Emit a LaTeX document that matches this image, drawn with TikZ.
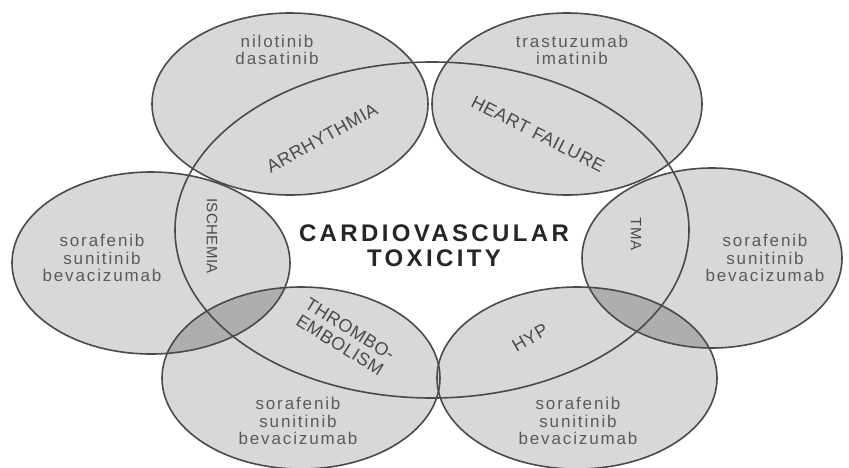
\documentclass[tikz,border=0pt]{standalone}
\usepackage{fontspec}
\setmainfont{Liberation Sans}
\newfontfamily\drugfont[LetterSpace=11]{Liberation Sans}
\newfontfamily\labfont[LetterSpace=3]{Liberation Sans}
\newfontfamily\titlefont[LetterSpace=14]{Liberation Sans}
\definecolor{fillg}{HTML}{D8D8D8}
\definecolor{darkg}{HTML}{AEAEAE}
\definecolor{lineg}{HTML}{4A4A4A}
\definecolor{txtg}{HTML}{5A5A5A}
\definecolor{labg}{HTML}{4A4A4A}
\definecolor{titleg}{HTML}{262626}
\def\eTL{(290,104) ellipse [x radius=138pt, y radius=91pt]}
\def\eTR{(567,104) ellipse [x radius=135pt, y radius=91pt]}
\def\eL{(151,263) ellipse [x radius=139pt, y radius=91pt]}
\def\eR{(712,258) ellipse [x radius=130pt, y radius=90pt]}
\def\eBL{(301,378) ellipse [x radius=139pt, y radius=91pt]}
\def\eBR{(577,378) ellipse [x radius=140pt, y radius=91pt]}
\def\eC{(432,230) ellipse [x radius=257pt, y radius=168pt]}
\tikzset{
  ring/.style={draw=lineg, line width=1.6pt},
  drug/.style={text=txtg, align=center, inner sep=0pt,
    font=\drugfont\fontsize{17}{17.5}\selectfont},
  region/.style={text=labg, inner sep=0pt, align=center,
    font=\labfont\fontsize{18}{19}\selectfont},
  title/.style={text=titleg, align=center, inner sep=0pt,
    font=\titlefont\bfseries\fontsize{24}{25}\selectfont}
}
\begin{document}
\begin{tikzpicture}[x=1pt,y=-1pt]
\useasboundingbox (0,0) rectangle (849,467);
\fill[white] (0,0) rectangle (849,467);
% light fills
\fill[fillg] \eTL;
\fill[fillg] \eTR;
\fill[fillg] \eL;
\fill[fillg] \eR;
\fill[fillg] \eBL;
\fill[fillg] \eBR;
% darker overlaps
\begin{scope}
  \clip \eL;
  \fill[darkg] \eBL;
\end{scope}
\begin{scope}
  \clip \eR;
  \fill[darkg] \eBR;
\end{scope}
% outlines
\path[ring] \eTL;
\path[ring] \eTR;
\path[ring] \eL;
\path[ring] \eR;
\path[ring] \eBL;
\path[ring] \eBR;
\path[ring] \eC;
% title
\node[title] (title) at (434,246) {CARDIOVASCULAR\\TOXICITY};
% drug lists
\node[drug] (dTL) at (277,50) {nilotinib\\dasatinib};
\node[drug] (dTR) at (572,50) {trastuzumab\\imatinib};
\node[drug] (dL) at (102,258) {sorafenib\\sunitinib\\bevacizumab};
\node[drug] (dR) at (765,258) {sorafenib\\sunitinib\\bevacizumab};
\node[drug] (dBL) at (298,421) {sorafenib\\sunitinib\\bevacizumab};
\node[drug] (dBR) at (578,421) {sorafenib\\sunitinib\\bevacizumab};
% region labels
\node[region, rotate=29] (arr) at (322,138) {ARRHYTHMIA};
\node[region, rotate=-27] (hf) at (538,134) {HEART FAILURE};
\node[region, rotate=-90, font=\labfont\fontsize{15}{16}\selectfont] (isch) at (212,236) {ISCHEMIA};
\node[region, rotate=-90, font=\labfont\fontsize{15}{16}\selectfont] (tma) at (636,234) {TMA};
\node[region, rotate=-32] (thr) at (345,337) {THROMBO-\\EMBOLISM};
\node[region, rotate=30] (hyp) at (530,338) {HYP};
\end{tikzpicture}
\end{document}
